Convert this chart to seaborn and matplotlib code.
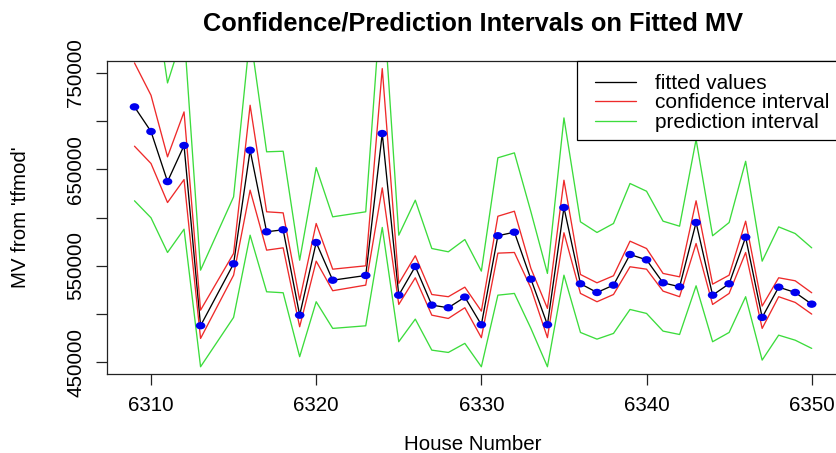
import numpy as np
import pandas as pd
import matplotlib
matplotlib.use("Agg")
import matplotlib.pyplot as plt
from matplotlib.lines import Line2D
from matplotlib.patches import Rectangle
from matplotlib.path import Path
from matplotlib.transforms import Affine2D
import seaborn as sns

# House numbers with fitted MV and its interval bounds
house = [6309, 6310, 6311, 6312, 6313, 6315, 6316, 6317, 6318, 6319,
         6320, 6321, 6323, 6324, 6325, 6326, 6327, 6328, 6329, 6330,
         6331, 6332, 6333, 6334, 6335, 6336, 6337, 6338, 6339, 6340,
         6341, 6342, 6343, 6344, 6345, 6346, 6347, 6348, 6349, 6350]

fitted = [714500, 689000, 637200, 674500, 488000, 552100, 669600, 585200, 587300, 498900,
          574100, 535100, 540000, 686900, 519600, 549300, 509300, 506600, 517600, 489000,
          581100, 584800, 536200, 489000, 610300, 531400, 522400, 530000, 561700, 556200,
          532400, 528300, 594800, 519600, 531400, 579600, 496600, 527900, 522400, 510300]

ci_upper = [760000, 726500, 662800, 709300, 504100, 562800, 716200, 605900, 604800, 514500,
            593800, 546500, 550000, 754100, 531700, 560400, 520300, 518000, 527900, 503100,
            601300, 606500, 547300, 505900, 638600, 541000, 532400, 539700, 575500, 567900,
            542100, 538600, 617300, 531000, 540300, 596200, 508300, 537600, 534500, 522100]

ci_lower = [673800, 655900, 615500, 639300, 474800, 540300, 628300, 566200, 568600, 486900,
            554800, 524200, 530000, 630700, 510000, 537600, 498900, 495500, 506600, 475600,
            563100, 563800, 526900, 475600, 584200, 521400, 512800, 520300, 549000, 546500,
            523800, 518000, 573100, 510000, 521400, 563800, 485200, 518000, 512100, 500000]

pi_upper = [850000, 855000, 739300, 793000, 545500, 621400, 790000, 668000, 668600, 555800,
            651700, 600700, 605900, 842000, 581700, 617900, 567900, 564500, 577200, 544500,
            661800, 666900, 605900, 542100, 703100, 595500, 584500, 593800, 635200, 627200,
            596200, 591000, 680700, 581100, 594800, 658200, 554800, 590300, 583400, 568600]

pi_lower = [617300, 599700, 563800, 587900, 445500, 496600, 581700, 523100, 522100, 455900,
            512800, 485200, 487900, 589700, 471400, 494800, 462700, 460300, 469700, 445500,
            519600, 521400, 485200, 445500, 540300, 481000, 474100, 480000, 504800, 500700,
            482400, 478900, 529300, 471400, 481000, 518000, 452400, 478200, 473000, 464500]

legend_labels = ["fitted values", "confidence interval", "prediction interval"]

df = pd.DataFrame({"house": house, "fitted": fitted,
                   "ci_upper": ci_upper, "ci_lower": ci_lower,
                   "pi_upper": pi_upper, "pi_lower": pi_lower})

sns.set_theme(style="white")
plt.rcParams["font.family"] = ["Liberation Sans", "DejaVu Sans"]
plt.rcParams.update({"text.color": "black", "axes.labelcolor": "black",
                     "xtick.color": "black", "ytick.color": "black"})

RED = "#EE2A2A"
GREEN = "#3CDC3C"
BLUE = "#0000EE"

W, H = 837, 453
L, R, T, B = 107.4, 838.8, 61.0, 374.0
fig = plt.figure(figsize=(W / 100, H / 100), dpi=100)
ax = fig.add_axes([L / W, 1 - B / H, (R - L) / W, (B - T) / H])

def ax_x(px):
    return (px - L) / (R - L)

def ax_y(py):
    return (B - py) / (B - T)

lw = 0.95
sns.lineplot(data=df, x="house", y="fitted", color="black", lw=lw, ax=ax,
             estimator=None, sort=False)
for col in ["ci_upper", "ci_lower"]:
    sns.lineplot(data=df, x="house", y=col, color=RED, lw=lw, ax=ax,
                 estimator=None, sort=False)
for col in ["pi_upper", "pi_lower"]:
    sns.lineplot(data=df, x="house", y=col, color=GREEN, lw=lw, ax=ax,
                 estimator=None, sort=False)

# slightly flattened filled dots
ellipse = Path.unit_circle().transformed(Affine2D().scale(1.3, 1.0))
sns.scatterplot(data=df, x="house", y="fitted", color=BLUE, marker=ellipse,
                s=48, edgecolor="none", ax=ax, zorder=5)

ax.set_xlim(6307.36, 6351.64)
ax.set_ylim(438000, 762000)
ax.set_xticks([6310, 6320, 6330, 6340, 6350])
yt = list(range(450000, 750001, 50000))
ax.set_yticks(yt)
ax.set_yticklabels([f"{v:d}" if (v - 450000) % 100000 == 0 else "" for v in yt])
ax.tick_params(axis="both", direction="out", length=8, width=0.9, color="#222222",
               labelsize=14.8, pad=8, left=True, bottom=True)
for lab in ax.get_yticklabels():
    lab.set_rotation(90)
    lab.set_va("center")

for sp in ax.spines.values():
    sp.set_color("#222222")
    sp.set_linewidth(0.9)

ax.set_xlabel("House Number", fontsize=14.8, labelpad=14)
ax.set_ylabel("MV from 'tfmod'", fontsize=14.8)
ax.yaxis.set_label_coords(-0.106, 0.5)
ax.set_title("Confidence/Prediction Intervals on Fitted MV", fontsize=18.3,
             fontweight="bold", pad=22)

# legend box in the top-right corner of the plot region
ax.add_patch(Rectangle((ax_x(577), ax_y(140)), 1.0 - ax_x(577), 1.0 - ax_y(140),
                       transform=ax.transAxes, facecolor="white",
                       edgecolor="black", lw=0.9, zorder=6, clip_on=False))
handles = [Line2D([], [], color="black", lw=lw),
           Line2D([], [], color=RED, lw=lw),
           Line2D([], [], color=GREEN, lw=lw)]
leg = ax.legend(handles, legend_labels, loc="upper left",
                bbox_to_anchor=(ax_x(595), ax_y(74)), borderaxespad=0,
                fontsize=15, frameon=False, handlelength=1.95,
                handletextpad=0.95, labelspacing=0.02, borderpad=0)
leg.set_zorder(7)

fig.savefig("out.png", dpi=100)
